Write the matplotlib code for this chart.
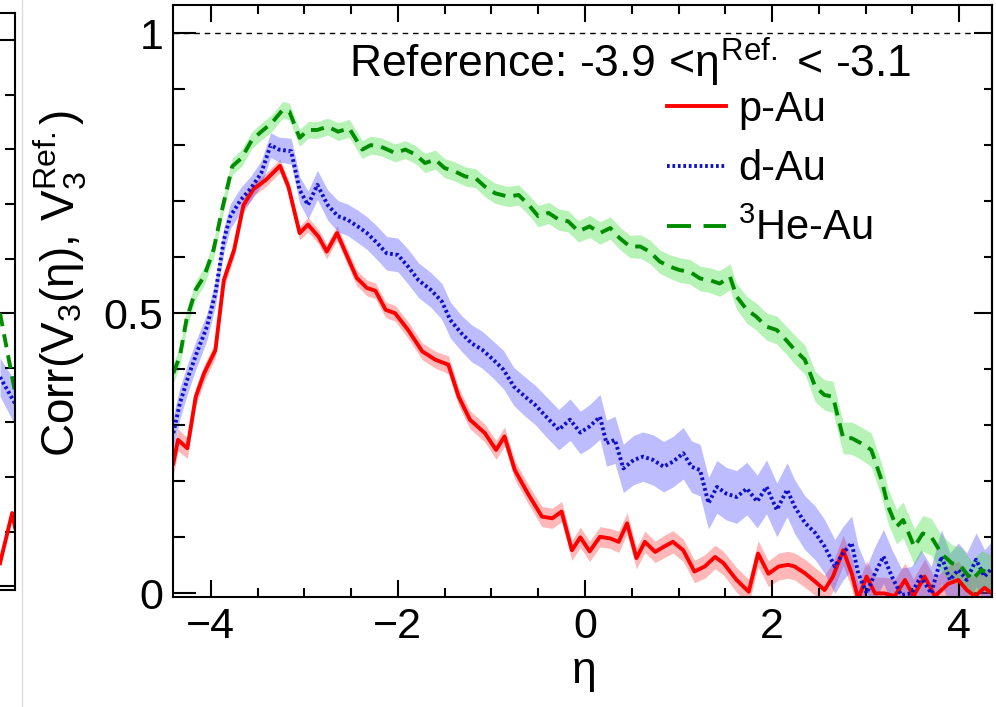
import numpy as np
import matplotlib
matplotlib.use('Agg')
import matplotlib.pyplot as plt
from matplotlib.lines import Line2D
from matplotlib.ticker import MultipleLocator, FixedLocator

plt.rcParams['font.family'] = ['Liberation Sans', 'DejaVu Sans']
plt.rcParams['mathtext.fontset'] = 'custom'
plt.rcParams['mathtext.rm'] = 'Liberation Sans'
plt.rcParams['mathtext.it'] = 'Liberation Sans'
plt.rcParams['mathtext.sf'] = 'Liberation Sans'
plt.rcParams['mathtext.bf'] = 'Liberation Sans:bold'

# ---------------- data ----------------
eta_pau = [-4.40, -4.35, -4.25, -4.16, -4.07, -3.95, -3.86, -3.75, -3.65, -3.54,
           -3.41, -3.26, -3.17, -3.05, -2.96, -2.85, -2.76, -2.65, -2.54, -2.44,
           -2.33, -2.24, -2.13, -2.03, -1.89, -1.74, -1.60, -1.46, -1.35, -1.23,
           -1.07, -0.95, -0.86, -0.75, -0.61, -0.46, -0.35, -0.25, -0.14, -0.05,
           0.05, 0.16, 0.27, 0.36, 0.45, 0.55, 0.64, 0.75, 0.84, 0.94,
           1.05, 1.17, 1.28, 1.39, 1.48, 1.62, 1.75, 1.85, 1.96, 2.07,
           2.17, 2.24, 2.35, 2.46, 2.56, 2.65, 2.76, 2.85, 2.92, 3.01,
           3.10, 3.20, 3.31, 3.42, 3.51, 3.63, 3.74, 3.88, 3.99, 4.08,
           4.17, 4.27, 4.35]
corr_pau = [0.232, 0.274, 0.259, 0.351, 0.393, 0.434, 0.559, 0.613, 0.693, 0.722,
            0.738, 0.763, 0.726, 0.643, 0.658, 0.637, 0.610, 0.643, 0.601, 0.563,
            0.545, 0.540, 0.506, 0.500, 0.470, 0.432, 0.417, 0.408, 0.351, 0.310,
            0.286, 0.256, 0.280, 0.220, 0.178, 0.137, 0.134, 0.146, 0.077, 0.100,
            0.075, 0.101, 0.098, 0.092, 0.125, 0.063, 0.092, 0.074, 0.083, 0.092,
            0.077, 0.039, 0.048, 0.065, 0.054, 0.024, 0.003, 0.071, 0.035, 0.048,
            0.051, 0.048, 0.036, 0.021, 0.006, 0.030, 0.077, 0.036, -0.010, 0.030,
            0.000, 0.000, -0.005, 0.024, -0.005, 0.030, -0.005, 0.017, 0.024, 0.006,
            -0.005, 0.010, 0.000]
err_pau = [0.022, 0.020, 0.018, 0.016, 0.015, 0.014, 0.014, 0.013, 0.013, 0.012,
           0.012, 0.012, 0.012, 0.012, 0.013, 0.013, 0.013, 0.013, 0.014, 0.014,
           0.014, 0.014, 0.014, 0.014, 0.015, 0.015, 0.015, 0.016, 0.016, 0.016,
           0.016, 0.017, 0.017, 0.017, 0.017, 0.018, 0.018, 0.018, 0.018, 0.018,
           0.018, 0.018, 0.018, 0.019, 0.019, 0.019, 0.019, 0.019, 0.020, 0.020,
           0.020, 0.020, 0.021, 0.021, 0.021, 0.022, 0.022, 0.023, 0.023, 0.024,
           0.024, 0.024, 0.025, 0.025, 0.026, 0.026, 0.027, 0.027, 0.028, 0.028,
           0.029, 0.029, 0.030, 0.030, 0.031, 0.031, 0.032, 0.032, 0.033, 0.033,
           0.034, 0.034, 0.035]

eta_dau = [-4.40, -4.33, -4.24, -4.15, -4.04, -3.95, -3.86, -3.79, -3.68, -3.57,
           -3.46, -3.36, -3.27, -3.14, -3.05, -2.96, -2.86, -2.75, -2.64, -2.54,
           -2.43, -2.33, -2.22, -2.12, -2.00, -1.89, -1.78, -1.65, -1.53, -1.44,
           -1.32, -1.21, -1.10, -0.98, -0.87, -0.76, -0.64, -0.53, -0.43, -0.28,
           -0.16, -0.05, 0.05, 0.16, 0.23, 0.32, 0.41, 0.52, 0.62, 0.73,
           0.84, 0.94, 1.05, 1.14, 1.23, 1.32, 1.41, 1.51, 1.62, 1.73,
           1.84, 1.94, 2.05, 2.16, 2.24, 2.35, 2.46, 2.56, 2.67, 2.76,
           2.85, 2.92, 3.01, 3.10, 3.19, 3.28, 3.38, 3.49, 3.59, 3.70,
           3.81, 3.90, 3.99, 4.08, 4.18, 4.27, 4.35]
corr_dau = [0.286, 0.339, 0.387, 0.429, 0.476, 0.536, 0.631, 0.673, 0.702, 0.723,
            0.750, 0.800, 0.792, 0.789, 0.720, 0.693, 0.729, 0.693, 0.673, 0.667,
            0.655, 0.643, 0.625, 0.607, 0.604, 0.583, 0.559, 0.542, 0.521, 0.488,
            0.464, 0.446, 0.435, 0.417, 0.399, 0.369, 0.351, 0.336, 0.318, 0.292,
            0.310, 0.287, 0.298, 0.315, 0.268, 0.274, 0.223, 0.238, 0.244, 0.238,
            0.226, 0.235, 0.250, 0.226, 0.220, 0.161, 0.190, 0.178, 0.172, 0.187,
            0.164, 0.190, 0.149, 0.185, 0.155, 0.126, 0.108, 0.084, 0.048, 0.072,
            0.090, 0.036, 0.000, 0.036, 0.066, 0.030, -0.003, 0.000, 0.030, 0.000,
            0.066, 0.024, 0.042, 0.024, 0.060, 0.030, 0.045]
err_dau = [0.030, 0.028, 0.026, 0.025, 0.024, 0.023, 0.022, 0.022, 0.022, 0.022,
           0.022, 0.022, 0.022, 0.023, 0.024, 0.025, 0.026, 0.027, 0.028, 0.028,
           0.029, 0.029, 0.030, 0.030, 0.030, 0.031, 0.031, 0.031, 0.032, 0.032,
           0.032, 0.033, 0.033, 0.033, 0.034, 0.034, 0.035, 0.035, 0.036, 0.036,
           0.037, 0.038, 0.039, 0.040, 0.041, 0.042, 0.043, 0.044, 0.044, 0.045,
           0.045, 0.045, 0.046, 0.046, 0.046, 0.046, 0.047, 0.047, 0.047, 0.047,
           0.047, 0.048, 0.048, 0.048, 0.048, 0.048, 0.048, 0.048, 0.048, 0.048,
           0.048, 0.048, 0.048, 0.048, 0.048, 0.048, 0.048, 0.048, 0.048, 0.048,
           0.048, 0.048, 0.048, 0.048, 0.048, 0.048, 0.048]

eta_heau = [-4.40, -4.33, -4.26, -4.16, -4.07, -3.97, -3.88, -3.77, -3.67, -3.56,
            -3.46, -3.35, -3.23, -3.16, -3.05, -2.96, -2.86, -2.75, -2.64, -2.52,
            -2.38, -2.29, -2.18, -2.03, -1.92, -1.81, -1.71, -1.60, -1.50, -1.39,
            -1.28, -1.17, -1.07, -0.96, -0.82, -0.71, -0.60, -0.50, -0.39, -0.28,
            -0.18, -0.07, 0.05, 0.16, 0.27, 0.37, 0.48, 0.59, 0.69, 0.80,
            0.91, 1.01, 1.12, 1.23, 1.33, 1.44, 1.55, 1.62, 1.73, 1.83,
            1.94, 2.05, 2.15, 2.24, 2.35, 2.46, 2.56, 2.65, 2.76, 2.85,
            2.95, 3.06, 3.17, 3.24, 3.33, 3.40, 3.52, 3.61, 3.70, 3.81,
            3.92, 4.02, 4.13, 4.24, 4.34]
corr_heau = [0.393, 0.423, 0.488, 0.542, 0.566, 0.613, 0.684, 0.762, 0.777, 0.809,
             0.824, 0.839, 0.863, 0.860, 0.813, 0.827, 0.827, 0.833, 0.824, 0.830,
             0.792, 0.800, 0.797, 0.786, 0.792, 0.783, 0.768, 0.774, 0.759, 0.753,
             0.744, 0.741, 0.726, 0.714, 0.708, 0.711, 0.693, 0.673, 0.679, 0.667,
             0.664, 0.646, 0.655, 0.643, 0.652, 0.634, 0.619, 0.619, 0.610, 0.592,
             0.583, 0.577, 0.574, 0.562, 0.559, 0.553, 0.565, 0.530, 0.506, 0.494,
             0.476, 0.470, 0.452, 0.435, 0.417, 0.369, 0.354, 0.351, 0.277, 0.277,
             0.268, 0.256, 0.202, 0.155, 0.119, 0.131, 0.083, 0.107, 0.101, 0.071,
             0.054, 0.048, 0.024, 0.042, 0.033]
err_heau = [0.018, 0.017, 0.017, 0.016, 0.016, 0.015, 0.015, 0.015, 0.015, 0.015,
            0.015, 0.015, 0.015, 0.015, 0.015, 0.015, 0.015, 0.015, 0.016, 0.016,
            0.016, 0.016, 0.016, 0.016, 0.016, 0.016, 0.017, 0.017, 0.017, 0.017,
            0.017, 0.017, 0.018, 0.018, 0.018, 0.018, 0.018, 0.019, 0.019, 0.019,
            0.019, 0.019, 0.020, 0.020, 0.020, 0.020, 0.020, 0.021, 0.021, 0.021,
            0.021, 0.022, 0.022, 0.022, 0.022, 0.023, 0.023, 0.023, 0.024, 0.024,
            0.024, 0.025, 0.025, 0.026, 0.026, 0.027, 0.027, 0.028, 0.028, 0.029,
            0.029, 0.030, 0.030, 0.031, 0.031, 0.032, 0.032, 0.032, 0.033, 0.033,
            0.033, 0.034, 0.034, 0.034, 0.035]

# sliver of the neighbouring panel (its right edge)
eta_left_pau = [4.19, 4.32, 4.35]
corr_left_pau = [0.042, 0.134, 0.108]
eta_left_dau = [4.19, 4.35]
corr_left_dau = [0.383, 0.335]
err_left_dau = [0.035, 0.040]
eta_left_heau = [4.19, 4.35]
corr_left_heau = [0.500, 0.356]

labels = ['p-Au', 'd-Au', r'$^{3}$He-Au']
x_ticks = [-4, -2, 0, 2, 4]
y_ticks = [0, 0.5, 1]
y_ticklabels = ['0', '0.5', '1']

# ---------------- style ----------------
c_red, c_blue, c_green = '#ff0000', '#1010c8', '#008c00'
f_red, f_blue, f_green = '#ff3333', '#4040ff', '#33dd33'
lw = 2.8
dot_style = (0, (0.7, 0.7))
dash_style = (0, (3.4, 2.1))

W, H = 996, 707
fig = plt.figure(figsize=(W / 100, H / 100), dpi=100)
fig.patch.set_facecolor('white')

def frac_rect(x0, y0, x1, y1):
    return [x0 / W, (H - y1) / H, (x1 - x0) / W, (y1 - y0) / H]

# ---------- neighbouring panel sliver ----------
ax0 = fig.add_axes(frac_rect(-200, 13, 15, 590))
ax0.fill_between(eta_left_dau, np.array(corr_left_dau) - np.array(err_left_dau),
                 np.array(corr_left_dau) + np.array(err_left_dau),
                 color=f_blue, alpha=0.35, lw=0)
ax0.plot(eta_left_pau, corr_left_pau, color=c_red, lw=lw)
ax0.plot(eta_left_dau, corr_left_dau, color=c_blue, lw=lw, linestyle=dot_style)
ax0.plot(eta_left_heau, corr_left_heau, color=c_green, lw=lw, linestyle=dash_style)
ax0.set_xlim(4.35 - 215 / 93.65, 4.35)
ax0.set_ylim(-0.007, 1.05)
ax0.yaxis.set_major_locator(FixedLocator(y_ticks))
ax0.yaxis.set_minor_locator(MultipleLocator(0.1))
ax0.tick_params(axis='y', which='both', direction='in', left=False, right=True,
                labelleft=False, labelright=False, width=1.5)
ax0.tick_params(axis='y', which='major', length=13)
ax0.tick_params(axis='y', which='minor', length=7)
ax0.tick_params(axis='x', which='both', bottom=False, labelbottom=False)
for s in ax0.spines.values():
    s.set_linewidth(1.5)

fig.add_artist(Line2D([21.5 / W, 21.5 / W], [0, 1], transform=fig.transFigure,
                      color='#dcdcdc', lw=1))

# ---------- main panel ----------
ax = fig.add_axes(frac_rect(173.3, 5, 992, 597.3))
for eta, c, e, fc in [(eta_pau, corr_pau, err_pau, f_red),
                      (eta_dau, corr_dau, err_dau, f_blue),
                      (eta_heau, corr_heau, err_heau, f_green)]:
    c = np.array(c); e = np.array(e)
    ax.fill_between(eta, c - e, c + e, color=fc, alpha=0.35, lw=0)

ax.plot(eta_pau, corr_pau, color=c_red, lw=lw, label=labels[0])
ax.plot(eta_dau, corr_dau, color=c_blue, lw=lw, linestyle=dot_style, label=labels[1])
ax.plot(eta_heau, corr_heau, color=c_green, lw=lw, linestyle=dash_style, label=labels[2])

ax.axhline(1.0, xmin=0, xmax=0.977, color='black', lw=1.0, linestyle=(0, (4, 3.5)))

ax.set_xlim(-4.4, 4.35)
ax.set_ylim(-0.007, 1.05)
ax.xaxis.set_major_locator(FixedLocator(x_ticks))
ax.xaxis.set_minor_locator(MultipleLocator(0.5))
ax.yaxis.set_major_locator(FixedLocator(y_ticks))
ax.yaxis.set_minor_locator(MultipleLocator(0.1))
ax.set_yticklabels(y_ticklabels)

ax.tick_params(which='both', direction='in', top=True, right=False, width=1.5,
               labelsize=31)
ax.tick_params(axis='x', which='major', length=12.5, pad=7)
ax.tick_params(axis='x', which='minor', length=6.5)
ax.tick_params(axis='y', which='major', length=16.5, pad=7)
ax.tick_params(axis='y', which='minor', length=8.6)
for s in ax.spines.values():
    s.set_linewidth(1.5)

sec = ax.secondary_yaxis('right')
sec.yaxis.set_major_locator(FixedLocator(y_ticks))
sec.yaxis.set_minor_locator(MultipleLocator(0.1))
sec.tick_params(which='both', direction='in', width=1.5, labelright=False)
sec.tick_params(which='major', length=13)
sec.tick_params(which='minor', length=5.5)
sec.spines['right'].set_linewidth(1.5)

ax.text(0.215, 0.878, r'Reference: -3.9 <$\eta^{\mathrm{Ref.}}$ < -3.1',
        transform=ax.transAxes, fontsize=32, ha='left', va='baseline')

dash_leg = (0, (6.2, 3.2))
handles = [Line2D([], [], color=c_red, lw=lw),
           Line2D([], [], color=c_blue, lw=lw, linestyle=dot_style),
           Line2D([], [], color=c_green, lw=lw, linestyle=dash_leg)]
ax.legend(handles, labels, loc='upper left', bbox_to_anchor=(0.603, 0.857),
          frameon=False, fontsize=30, handlelength=1.42, handletextpad=0.29,
          labelspacing=0.47, borderpad=0, borderaxespad=0)

ax.set_xlabel(r'$\eta$', fontsize=32, labelpad=4)
fig.text(60 / W, 1 - 283 / H, r'Corr(V$_{3}$($\eta$), V$_{3}^{\mathrm{Ref.}}$)',
         rotation=90, fontsize=33, ha='center', va='center')

fig.savefig('out.png', dpi=100, facecolor='white')
